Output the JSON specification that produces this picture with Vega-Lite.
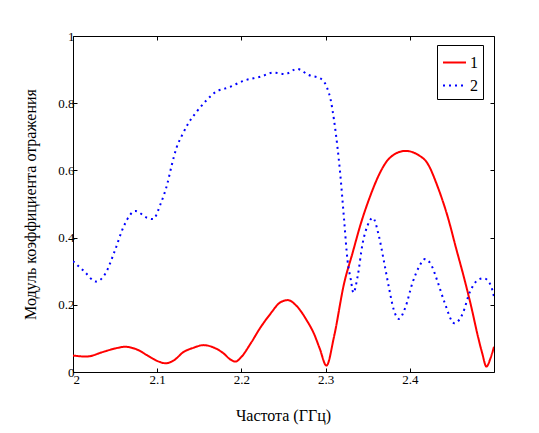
{
  "$schema": "https://vega.github.io/schema/vega-lite/v6.json",
  "width": 421,
  "height": 336,
  "autosize": {"type": "none"},
  "padding": {"left": 73, "top": 36, "right": 45, "bottom": 61},
  "background": "white",
  "config": {
    "font": "Times New Roman, Liberation Serif, serif",
    "view": {"stroke": "black", "strokeWidth": 1},
    "axis": {
      "domain": false,
      "grid": false,
      "tickColor": "black",
      "tickSize": -4,
      "labelFont": "Times New Roman, Liberation Serif, serif",
      "labelFontSize": 13,
      "labelColor": "black",
      "titleFont": "Times New Roman, Liberation Serif, serif",
      "titleFontSize": 16,
      "titleFontWeight": "normal",
      "titleColor": "black"
    }
  },
  "data": {
    "values": [
      {"f": 2.0, "r": 0.049, "s": "1"},
      {"f": 2.016, "r": 0.046, "s": "1"},
      {"f": 2.036, "r": 0.06, "s": "1"},
      {"f": 2.05, "r": 0.07, "s": "1"},
      {"f": 2.062, "r": 0.075, "s": "1"},
      {"f": 2.075, "r": 0.068, "s": "1"},
      {"f": 2.088, "r": 0.05, "s": "1"},
      {"f": 2.1, "r": 0.033, "s": "1"},
      {"f": 2.11, "r": 0.026, "s": "1"},
      {"f": 2.12, "r": 0.035, "s": "1"},
      {"f": 2.131, "r": 0.059, "s": "1"},
      {"f": 2.143, "r": 0.072, "s": "1"},
      {"f": 2.155, "r": 0.08, "s": "1"},
      {"f": 2.167, "r": 0.073, "s": "1"},
      {"f": 2.179, "r": 0.055, "s": "1"},
      {"f": 2.187, "r": 0.037, "s": "1"},
      {"f": 2.193, "r": 0.031, "s": "1"},
      {"f": 2.2, "r": 0.045, "s": "1"},
      {"f": 2.211, "r": 0.085, "s": "1"},
      {"f": 2.222, "r": 0.13, "s": "1"},
      {"f": 2.235, "r": 0.175, "s": "1"},
      {"f": 2.245, "r": 0.205, "s": "1"},
      {"f": 2.255, "r": 0.214, "s": "1"},
      {"f": 2.265, "r": 0.198, "s": "1"},
      {"f": 2.278, "r": 0.152, "s": "1"},
      {"f": 2.286, "r": 0.115, "s": "1"},
      {"f": 2.293, "r": 0.07, "s": "1"},
      {"f": 2.301, "r": 0.019, "s": "1"},
      {"f": 2.31, "r": 0.105, "s": "1"},
      {"f": 2.322, "r": 0.264, "s": "1"},
      {"f": 2.332, "r": 0.354, "s": "1"},
      {"f": 2.342, "r": 0.443, "s": "1"},
      {"f": 2.352, "r": 0.517, "s": "1"},
      {"f": 2.365, "r": 0.595, "s": "1"},
      {"f": 2.372, "r": 0.625, "s": "1"},
      {"f": 2.38, "r": 0.645, "s": "1"},
      {"f": 2.395, "r": 0.658, "s": "1"},
      {"f": 2.41, "r": 0.646, "s": "1"},
      {"f": 2.421, "r": 0.621, "s": "1"},
      {"f": 2.433, "r": 0.552, "s": "1"},
      {"f": 2.445, "r": 0.462, "s": "1"},
      {"f": 2.455, "r": 0.368, "s": "1"},
      {"f": 2.465, "r": 0.275, "s": "1"},
      {"f": 2.473, "r": 0.194, "s": "1"},
      {"f": 2.481, "r": 0.105, "s": "1"},
      {"f": 2.486, "r": 0.056, "s": "1"},
      {"f": 2.491, "r": 0.016, "s": "1"},
      {"f": 2.496, "r": 0.042, "s": "1"},
      {"f": 2.5, "r": 0.075, "s": "1"},
      {"f": 2.0, "r": 0.33, "s": "2"},
      {"f": 2.014, "r": 0.298, "s": "2"},
      {"f": 2.027, "r": 0.269, "s": "2"},
      {"f": 2.038, "r": 0.291, "s": "2"},
      {"f": 2.05, "r": 0.363, "s": "2"},
      {"f": 2.06, "r": 0.432, "s": "2"},
      {"f": 2.074, "r": 0.479, "s": "2"},
      {"f": 2.088, "r": 0.459, "s": "2"},
      {"f": 2.095, "r": 0.455, "s": "2"},
      {"f": 2.104, "r": 0.5, "s": "2"},
      {"f": 2.112, "r": 0.56, "s": "2"},
      {"f": 2.117, "r": 0.613, "s": "2"},
      {"f": 2.123, "r": 0.668, "s": "2"},
      {"f": 2.129, "r": 0.702, "s": "2"},
      {"f": 2.137, "r": 0.74, "s": "2"},
      {"f": 2.147, "r": 0.775, "s": "2"},
      {"f": 2.159, "r": 0.81, "s": "2"},
      {"f": 2.167, "r": 0.829, "s": "2"},
      {"f": 2.187, "r": 0.849, "s": "2"},
      {"f": 2.203, "r": 0.867, "s": "2"},
      {"f": 2.223, "r": 0.879, "s": "2"},
      {"f": 2.238, "r": 0.891, "s": "2"},
      {"f": 2.252, "r": 0.887, "s": "2"},
      {"f": 2.266, "r": 0.902, "s": "2"},
      {"f": 2.28, "r": 0.884, "s": "2"},
      {"f": 2.295, "r": 0.872, "s": "2"},
      {"f": 2.302, "r": 0.844, "s": "2"},
      {"f": 2.306, "r": 0.81, "s": "2"},
      {"f": 2.31, "r": 0.75, "s": "2"},
      {"f": 2.314, "r": 0.671, "s": "2"},
      {"f": 2.317, "r": 0.6, "s": "2"},
      {"f": 2.322, "r": 0.452, "s": "2"},
      {"f": 2.326, "r": 0.333, "s": "2"},
      {"f": 2.33, "r": 0.274, "s": "2"},
      {"f": 2.333, "r": 0.236, "s": "2"},
      {"f": 2.338, "r": 0.284, "s": "2"},
      {"f": 2.344, "r": 0.383, "s": "2"},
      {"f": 2.35, "r": 0.437, "s": "2"},
      {"f": 2.356, "r": 0.459, "s": "2"},
      {"f": 2.363, "r": 0.408, "s": "2"},
      {"f": 2.369, "r": 0.333, "s": "2"},
      {"f": 2.375, "r": 0.254, "s": "2"},
      {"f": 2.381, "r": 0.185, "s": "2"},
      {"f": 2.387, "r": 0.158, "s": "2"},
      {"f": 2.395, "r": 0.194, "s": "2"},
      {"f": 2.403, "r": 0.264, "s": "2"},
      {"f": 2.411, "r": 0.313, "s": "2"},
      {"f": 2.418, "r": 0.336, "s": "2"},
      {"f": 2.425, "r": 0.321, "s": "2"},
      {"f": 2.433, "r": 0.269, "s": "2"},
      {"f": 2.441, "r": 0.209, "s": "2"},
      {"f": 2.453, "r": 0.145, "s": "2"},
      {"f": 2.463, "r": 0.175, "s": "2"},
      {"f": 2.471, "r": 0.236, "s": "2"},
      {"f": 2.481, "r": 0.274, "s": "2"},
      {"f": 2.488, "r": 0.279, "s": "2"},
      {"f": 2.496, "r": 0.259, "s": "2"},
      {"f": 2.5, "r": 0.224, "s": "2"}
    ]
  },
  "layer": [
    {
      "mark": {"type": "line", "opacity": 0},
      "encoding": {
        "x": {
          "field": "f",
          "type": "quantitative",
          "scale": {"domain": [2, 2.5], "nice": false, "zero": false},
          "axis": {
            "orient": "bottom",
            "values": [2, 2.1, 2.2, 2.3, 2.4],
            "format": "~g",
            "labelPadding": 5,
            "title": "Частота (ГГц)",
            "titleX": 210,
            "titleY": 43,
            "titleBaseline": "middle"
          }
        },
        "y": {
          "field": "r",
          "type": "quantitative",
          "scale": {"domain": [0, 1], "nice": false},
          "axis": {
            "orient": "left",
            "values": [0, 0.2, 0.4, 0.6, 0.8, 1],
            "format": "~g",
            "labelPadding": 3,
            "title": "Модуль коэффициента отражения",
            "titleX": -43,
            "titleY": 168,
            "titleAngle": -90,
            "titleAlign": "center",
            "titleBaseline": "middle"
          }
        },
        "detail": {"field": "s", "type": "nominal"}
      }
    },
    {
      "mark": {"type": "line", "interpolate": "monotone", "strokeWidth": 2, "clip": true},
      "encoding": {
        "x": {
          "field": "f",
          "type": "quantitative",
          "scale": {"domain": [2, 2.5], "nice": false, "zero": false},
          "axis": {"orient": "top", "values": [2, 2.1, 2.2, 2.3, 2.4], "labels": false, "title": null}
        },
        "y": {
          "field": "r",
          "type": "quantitative",
          "scale": {"domain": [0, 1], "nice": false},
          "axis": {"orient": "right", "values": [0, 0.2, 0.4, 0.6, 0.8, 1], "labels": false, "title": null}
        },
        "color": {
          "field": "s",
          "type": "nominal",
          "scale": {"domain": ["1", "2"], "range": ["#ff0000", "#0000ff"]},
          "legend": {
            "title": null,
            "orient": "none",
            "legendX": 364,
            "legendY": 9,
            "strokeColor": "black",
            "fillColor": "white",
            "padding": 5,
            "symbolType": "stroke",
            "symbolSize": 529,
            "symbolStrokeWidth": 2,
            "labelFont": "Times New Roman, Liberation Serif, serif",
            "labelFontSize": 16,
            "labelColor": "black",
            "labelOffset": 3,
            "rowPadding": 2
          }
        },
        "strokeDash": {
          "field": "s",
          "type": "nominal",
          "scale": {"domain": ["1", "2"], "range": [[1, 0], [2, 4]]},
          "legend": {
            "title": null,
            "orient": "none",
            "legendX": 364,
            "legendY": 9,
            "strokeColor": "black",
            "fillColor": "white",
            "padding": 5,
            "symbolType": "stroke",
            "symbolSize": 529,
            "symbolStrokeWidth": 2,
            "labelFont": "Times New Roman, Liberation Serif, serif",
            "labelFontSize": 16,
            "labelColor": "black",
            "labelOffset": 3,
            "rowPadding": 2
          }
        }
      }
    }
  ],
  "resolve": {"axis": {"x": "independent", "y": "independent"}}
}
